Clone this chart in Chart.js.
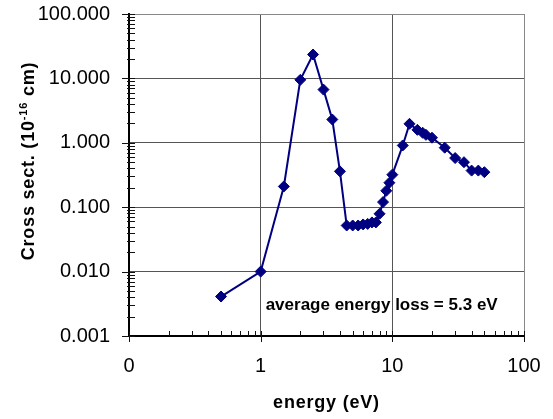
<!DOCTYPE html>
<html>
<head>
<meta charset="utf-8">
<script src="https://cdn.jsdelivr.net/npm/chart.js@4/dist/chart.umd.min.js"></script>
<style>
  html, body { margin: 0; padding: 0; background: #fff; }
</style>
</head>
<body>
<canvas id="myChart" width="553" height="419"></canvas>
<script>
// energy (eV) and cross section (10^-16 cm)
const energies = [0.5, 1, 1.5, 2, 2.5, 3, 3.5, 4, 4.5, 5, 5.5, 6, 6.5, 7, 7.5, 8, 8.5, 9, 9.5, 10,
                  12, 13.5, 15.5, 17, 18, 20, 25, 30, 35, 40, 45, 50];
const crossSect = [0.0041, 0.010, 0.21, 9.5, 23.5, 6.7, 2.3, 0.36, 0.052, 0.052, 0.052, 0.054, 0.055, 0.058, 0.058, 0.079, 0.12, 0.18, 0.24, 0.32,
                   0.91, 1.97, 1.59, 1.43, 1.33, 1.20, 0.84, 0.58, 0.50, 0.37, 0.37, 0.35];

const xDecades = [0.1, 1, 10, 100];
const xTickLabels = ['0', '1', '10', '100'];
const yDecades = [0.001, 0.01, 0.1, 1, 10, 100];
const yTickLabels = ['0.001', '0.010', '0.100', '1.000', '10.000', '100.000'];
const noteText = 'average energy loss = 5.3 eV';

const FONT = "'Liberation Sans', Arial, sans-serif";

function minorsOf(decades) {
    const out = [];
    for (let i = 0; i < decades.length - 1; i++) {
        for (let k = 2; k <= 9; k++) out.push(decades[i] * k);
    }
    return out;
}

const decorations = {
    id: 'decorations',
    afterDraw(chart) {
        const ctx = chart.ctx;
        const x = chart.scales.x, y = chart.scales.y;
        const area = chart.chartArea;
        ctx.save();

        // tick marks
        ctx.strokeStyle = '#111';
        ctx.lineWidth = 1;
        ctx.beginPath();
        minorsOf(xDecades).forEach(function (v) {
            const px = Math.round(x.getPixelForValue(v)) + 0.5;
            ctx.moveTo(px, area.bottom); ctx.lineTo(px, area.bottom - 5);
        });
        xDecades.forEach(function (v) {
            const px = Math.round(x.getPixelForValue(v)) + 0.5;
            ctx.moveTo(px, area.bottom + 6); ctx.lineTo(px, area.bottom - 5);
        });
        minorsOf(yDecades).forEach(function (v) {
            const py = Math.round(y.getPixelForValue(v)) + 0.5;
            ctx.moveTo(area.left - 2, py); ctx.lineTo(area.left + 6, py);
        });
        yDecades.forEach(function (v) {
            const py = Math.round(y.getPixelForValue(v)) + 0.5;
            ctx.moveTo(area.left - 7, py); ctx.lineTo(area.left + 6, py);
        });
        ctx.stroke();

        ctx.fillStyle = '#000';

        // x title
        ctx.font = 'bold 18px ' + FONT;
        ctx.letterSpacing = '0.8px';
        ctx.textAlign = 'center';
        ctx.textBaseline = 'alphabetic';
        ctx.fillText('energy (eV)', (area.left + area.right) / 2, 408);

        // y title with superscript
        ctx.save();
        ctx.translate(34, 161);
        ctx.rotate(-Math.PI / 2);
        ctx.textAlign = 'left';
        const parts = [
            { t: 'Cross sect. (10', f: 'bold 18px ' + FONT, dy: 0 },
            { t: '-16', f: 'bold 11px ' + FONT, dy: -7 },
            { t: ' cm)', f: 'bold 18px ' + FONT, dy: 0 }
        ];
        let total = 0;
        parts.forEach(function (p) { ctx.font = p.f; p.w = ctx.measureText(p.t).width; total += p.w; });
        let cx = -total / 2;
        parts.forEach(function (p) { ctx.font = p.f; ctx.fillText(p.t, cx, p.dy); cx += p.w; });
        ctx.restore();

        // note
        ctx.letterSpacing = '0px';
        ctx.font = 'bold 17px ' + FONT;
        ctx.textAlign = 'left';
        ctx.fillText(noteText, x.getPixelForValue(1) + 5, 310);

        ctx.restore();
    }
};

const ctx = document.getElementById('myChart').getContext('2d');
const chart = new Chart(ctx, {
    type: 'line',
    data: {
        datasets: [{
            label: 'Cross section',
            data: energies.map(function (e, i) { return { x: e, y: crossSect[i] }; }),
            borderColor: '#000080',
            backgroundColor: '#000080',
            borderWidth: 2,
            pointStyle: 'rectRot',
            pointRadius: 5.5,
            pointBorderWidth: 1,
            tension: 0
        }]
    },
    options: {
        responsive: false,
        animation: false,
        devicePixelRatio: 1,
        layout: { padding: { top: 14, right: 29, left: 0, bottom: 0 } },
        plugins: {
            legend: { display: false },
            tooltip: { enabled: false }
        },
        scales: {
            x: {
                type: 'logarithmic',
                min: 0.1,
                max: 100,
                afterBuildTicks: function (scale) {
                    scale.ticks = xDecades.map(function (v) { return { value: v }; });
                },
                afterFit: function (scale) {
                    scale.height = 83;
                    scale.paddingLeft = 0;
                    scale.paddingRight = 0;
                },
                ticks: {
                    autoSkip: false,
                    maxRotation: 0,
                    padding: 18,
                    color: '#000',
                    font: { family: FONT, size: 20 },
                    callback: function (value) {
                        const i = xDecades.indexOf(value);
                        return i >= 0 ? xTickLabels[i] : '';
                    }
                },
                grid: {
                    drawTicks: false,
                    lineWidth: 1,
                    color: function (c) {
                        const v = c.tick && c.tick.value;
                        return v === 100 ? '#888' : '#555';
                    }
                },
                border: { color: '#000', width: 2 }
            },
            y: {
                type: 'logarithmic',
                min: 0.001,
                max: 100,
                afterBuildTicks: function (scale) {
                    scale.ticks = yDecades.map(function (v) { return { value: v }; });
                },
                afterFit: function (scale) {
                    scale.width = 129;
                    scale.paddingTop = 0;
                    scale.paddingBottom = 0;
                },
                ticks: {
                    autoSkip: false,
                    padding: 19,
                    color: '#000',
                    font: { family: FONT, size: 20 },
                    callback: function (value) {
                        const i = yDecades.indexOf(value);
                        return i >= 0 ? yTickLabels[i] : '';
                    }
                },
                grid: {
                    drawTicks: false,
                    lineWidth: 1,
                    color: function (c) {
                        const v = c.tick && c.tick.value;
                        return v === 100 ? '#888' : '#555';
                    }
                },
                border: { color: '#000', width: 2 }
            }
        }
    },
    plugins: [decorations]
});
</script>
</body>
</html>
